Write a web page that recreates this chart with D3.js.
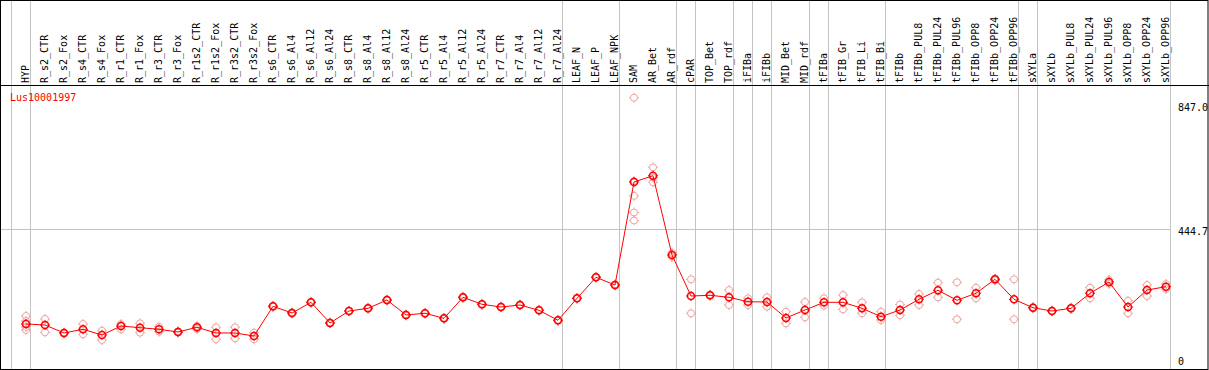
<!DOCTYPE html>
<html><head><meta charset="utf-8">
<script src="https://cdn.jsdelivr.net/npm/d3@7"></script>
<style>body{margin:0;background:#fff}svg{display:block}text{font-family:"DejaVu Sans Mono",monospace;font-size:10px}</style>
</head><body><svg id="c" width="1209" height="370"></svg>
<script>
const geneName = "Lus10001997";
const categories = ["HYP","R_s2_CTR","R_s2_Fox","R_s4_CTR","R_s4_Fox","R_r1_CTR","R_r1_Fox","R_r3_CTR","R_r3_Fox","R_r1s2_CTR","R_r1s2_Fox","R_r3s2_CTR","R_r3s2_Fox","R_s6_CTR","R_s6_Al4","R_s6_Al12","R_s6_Al24","R_s8_CTR","R_s8_Al4","R_s8_Al12","R_s8_Al24","R_r5_CTR","R_r5_Al4","R_r5_Al12","R_r5_Al24","R_r7_CTR","R_r7_Al4","R_r7_Al12","R_r7_Al24","LEAF_N","LEAF_P","LEAF_NPK","SAM","AR_Bet","AR_rdf","cPAR","TOP_Bet","TOP_rdf","iFIBa","iFIBb","MID_Bet","MID_rdf","tFIBa","tFIB_Gr","tFIB_Li","tFIB_Bi","tFIBb","tFIBb_PUL8","tFIBb_PUL24","tFIBb_PUL96","tFIBb_OPP8","tFIBb_OPP24","tFIBb_OPP96","sXYLa","sXYLb","sXYLb_PUL8","sXYLb_PUL24","sXYLb_PUL96","sXYLb_OPP8","sXYLb_OPP24","sXYLb_OPP96"];
const means = [153.3,150.2,125.7,137,119.6,147.1,141.9,137,128.8,143.2,125.7,125.7,116.5,207.5,187,219.8,156.3,193.1,201.4,226.8,180.9,186.1,170.7,235.1,213.7,205.4,211.5,195.3,164.6,232.1,296.4,272.8,588.6,607.9,364.8,239.1,241.3,235.1,221.6,220.7,171.7,196.2,219.8,219.8,201.4,175.7,196.2,229,256.6,225.9,247.4,290.3,229,203.2,193.1,201.4,247.4,282,205.4,257.5,267.6];
const replicates = [
 [177.8,162.5,144.1,134.9],[168.6,127.8],[124,127],[153.3,121.7],[132.7,104.2],[153.3,137],[155.4,126.6],[145,129.7],[127,131],[147.1,137.9],[143.2,106.4],[143.2,109.4],[126.6,106.4],
 [206,209],[185,189],[218,221],[155,158],[192,194],[200,203],[225,228],[179,183],[185,187],[169,172],[233,237],[212,215],[204,207],[210,213],[194,197],[163,166],
 [231,233],[295,298],[271,275],[847,591.7,546,495,470.6],[633.6,587.7,602],[370.9,358.7],[290.3,186.1],[240,243],[257.5,211.5],[232.1,211.5],[235.1,206.3],[191,155.4],[220.7,173.8],
 [232.1,209.4],[242,198],[219.8,186.1],[191,165.5],[213,180],[245.2,211.5],[279.9,235.1],[281.1,167.7],[264.6,232.1],[287,293],[290.3,167.7],
 [202,205],[192,194],[200,203],[264.6,232.1],[288.3,276],[224.7,186.1],[272.8,239.1],[275.9,260.6]];
const groupStarts = ["HYP","R_s2_CTR","LEAF_N","SAM","cPAR","TOP_Bet","iFIBa","iFIBb","MID_Bet","tFIBa","tFIB_Gr","tFIBb","sXYLa","sXYLb"];
const yMax = 847.0;
const gridValues = [444.7];
const axisLabels = [847.0, 444.7, 0];

const svg = d3.select("#c");
const W = 1209, H = 370, headerY = 85.5, bottomY = 369.5;
const x = d3.scaleBand().domain(categories).range([11, 11 + categories.length * 19]).paddingInner(0).paddingOuter(0);
const cx = d => x(d) + 15;
const y = d3.scaleLinear().domain([0, yMax]).range([374, 97.7]);
const endX = x.range()[1];

// vertical group separators
svg.append("g").selectAll("line").data(groupStarts.concat(["__end"])).join("line")
  .attr("x1", d => (d === "__end" ? endX : x(d)) + 0.5).attr("x2", d => (d === "__end" ? endX : x(d)) + 0.5)
  .attr("y1", 0).attr("y2", H).attr("stroke", "#c4c4c4").attr("stroke-width", 1);

// horizontal grid
svg.append("g").selectAll("line").data(gridValues).join("line")
  .attr("x1", 0).attr("x2", endX).attr("y1", d => Math.round(y(d)) + 0.5).attr("y2", d => Math.round(y(d)) + 0.5)
  .attr("stroke", "#c4c4c4");

// frame
svg.append("rect").attr("x", 0.5).attr("y", 0.5).attr("width", W - 1.5).attr("height", bottomY - 0.5)
  .attr("fill", "none").attr("stroke", "#000");
svg.append("line").attr("x1", 0).attr("x2", W).attr("y1", headerY).attr("y2", headerY).attr("stroke", "#000");

// category labels
svg.append("g").selectAll("text").data(categories).join("text")
  .attr("transform", d => `translate(${cx(d) - 1},83) rotate(-90)`)
  .attr("dominant-baseline", "central").attr("fill", "#000").text(d => d);

// gene name
svg.append("text").attr("x", 10).attr("y", 101).attr("fill", "#f00").text(geneName);

// axis labels
svg.append("g").selectAll("text").data(axisLabels).join("text")
  .attr("x", 1178).attr("y", d => Math.max(111, Math.min(365, y(d) + 6)))
  .attr("fill", "#000").text(d => d === 0 ? "0" : d.toFixed(1));

function marker(g, px, py, color, sw) {
  g.append("circle").attr("cx", px).attr("cy", py).attr("r", 3.5).attr("fill", "none").attr("stroke", color).attr("stroke-width", sw);
  g.append("path").attr("d", `M${px},${py-5}v1.2M${px},${py+3.8}v1.2M${px-5},${py}h1.2M${px+3.8},${py}h1.2`)
    .attr("stroke", color).attr("stroke-width", 1);
}

// replicates
const rg = svg.append("g");
categories.forEach((c, i) => replicates[i].forEach(v => marker(rg, cx(c), y(v), "#f0a0a0", 1)));

// mean line
svg.append("path").datum(categories.map((c, i) => [cx(c), y(means[i])]))
  .attr("d", d3.line()).attr("fill", "none").attr("stroke", "#f00").attr("stroke-width", 1);

// means
const mg = svg.append("g");
categories.forEach((c, i) => marker(mg, cx(c), y(means[i]), "#f00", 1.6));
</script></body></html>
